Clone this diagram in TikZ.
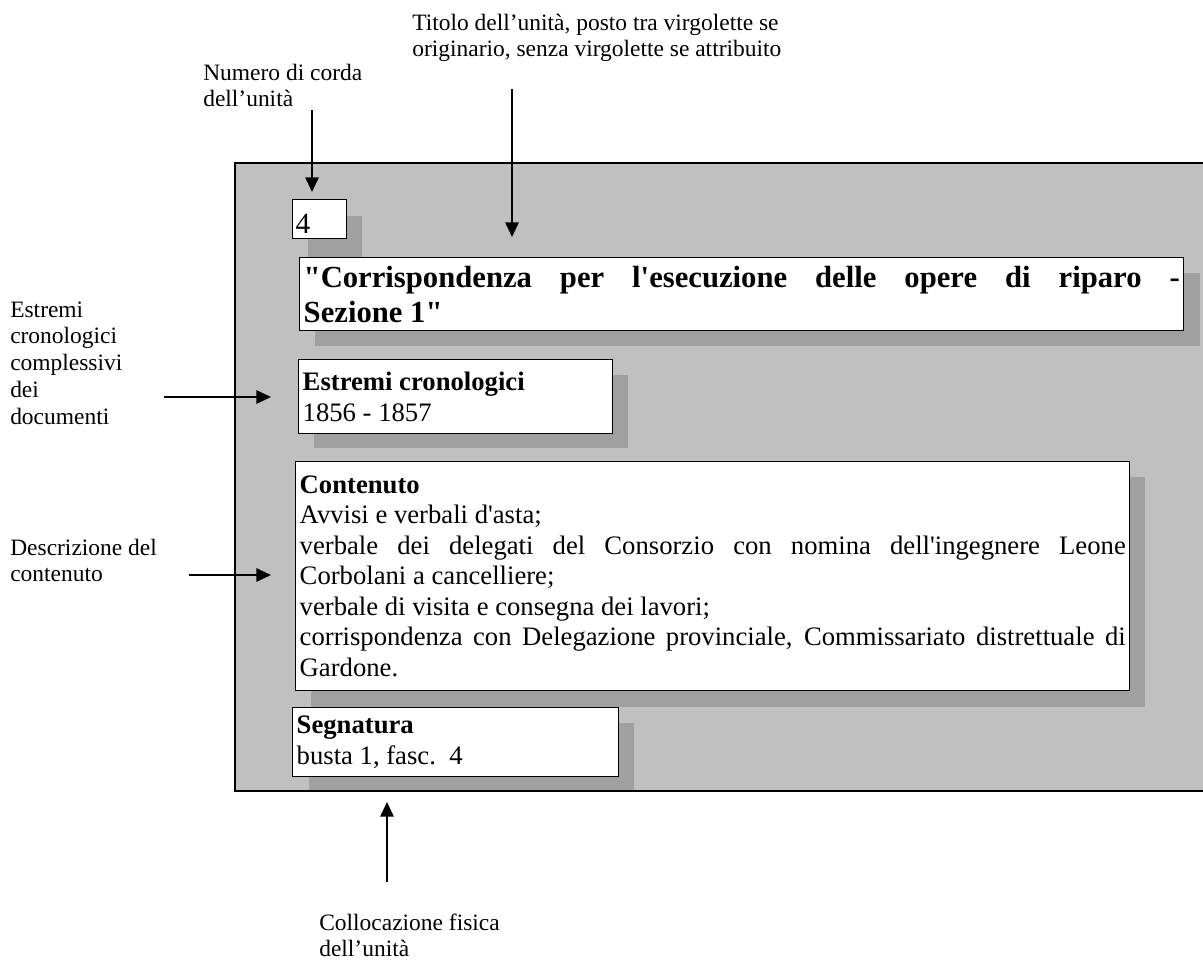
\documentclass[tikz,border=0pt]{standalone}
\usepackage{fontspec}
\setmainfont{Liberation Serif}
\usetikzlibrary{arrows.meta}
\definecolor{panelgray}{HTML}{C0C0C0}
\definecolor{shadegray}{HTML}{A0A0A0}
\newcommand\sq{\XeTeXglyph\XeTeXcharglyph"27\relax}
\newcommand\dq{\XeTeXglyph\XeTeXcharglyph"22\relax}
\newcommand\lblines[1]{\begin{tabular}[t]{@{}l@{}}#1\end{tabular}}
\hyphenpenalty=10000
\exhyphenpenalty=10000
\tolerance=9999
\begin{document}
\begin{tikzpicture}[x=0.75pt,y=-0.75pt,
  box/.style={draw=black, line width=1.1pt, fill=white, inner xsep=3pt, inner ysep=0pt, anchor=north west, align=justify},
  bodyfont/.style={font=\fontsize{20}{22.9}\selectfont},
  lbl/.style={inner sep=0pt, anchor=base west, font=\fontsize{17.6}{20.2}\selectfont},
  arr/.style={line width=1.4pt, -{Triangle[length=11pt,width=10pt]}}]
\useasboundingbox (0,0) rectangle (1203,960);
% panel
\fill[panelgray] (235,163) rectangle (1203,791);
% shadows
\fill[shadegray] (308,216) rectangle (362,257);
\fill[shadegray] (315,273) rectangle (1200,346);
\fill[shadegray] (314,375) rectangle (628,448);
\fill[shadegray] (311,477) rectangle (1145,707);
\fill[shadegray] (309,723) rectangle (634,791);
\draw[line width=1.1pt] (1203,163) -- (235,163) -- (235,791) -- (1203,791);
% boxes
\node[box, inner xsep=2.25pt, text width=36pt, minimum height=29.25pt, text height=21.75pt, text depth=0pt, align=left, font=\fontsize{22}{24}\selectfont] (num) at (292,199) {4};
\node[box, text width=657pt, minimum height=54.75pt, font=\bfseries\fontsize{23}{26.25}\selectfont] (title) at (299,257) {\dq Corrispondenza per l\sq esecuzione delle opere di riparo -\linebreak Sezione 1\dq};
\node[box, bodyfont, text width=229.5pt, minimum height=55.5pt] (dates) at (298,359) {\textbf{Estremi cronologici}\newline 1856 - 1857};
\node[box, bodyfont, text width=619.5pt, minimum height=171.75pt] (content) at (295,461) {\textbf{Contenuto}\newline Avvisi e verbali d\sq asta;\newline verbale dei delegati del Consorzio con nomina dell\sq ingegnere Leone\linebreak Corbolani a cancelliere;\newline verbale di visita e consegna dei lavori;\newline corrispondenza con Delegazione provinciale, Commissariato distrettuale di\linebreak Gardone.};
\node[box, bodyfont, text width=238.5pt, minimum height=51.75pt] (sig) at (292,707) {\textbf{Segnatura}\newline busta 1, fasc.\ \ 4};
% labels
\node[lbl] (lbltitle) at (412,30) {\lblines{Titolo dell’unità, posto tra virgolette se\\originario, senza virgolette se attribuito}};
\node[lbl] (lblnum) at (203,80) {\lblines{Numero di corda\\dell’unità}};
\node[lbl] (lbldates) at (10,317) {\lblines{Estremi\\cronologici\\complessivi\\dei\\documenti}};
\node[lbl] (lbldesc) at (10,555) {\lblines{Descrizione del\\contenuto}};
\node[lbl] (lblloc) at (319,930) {\lblines{Collocazione fisica\\dell’unità}};
% arrow ends
\coordinate (numA) at (312,110);   \coordinate (numB) at (312,192);
\coordinate (titA) at (512,89);    \coordinate (titB) at (512,237);
\coordinate (datA) at (164,397);   \coordinate (datB) at (271,397);
\coordinate (desA) at (189,575);   \coordinate (desB) at (271,575);
\coordinate (locA) at (387,882);   \coordinate (locB) at (387,802);
\draw[arr] (numA) -- (numB);
\draw[arr] (titA) -- (titB);
\draw[arr] (datA) -- (datB);
\draw[arr] (desA) -- (desB);
\draw[arr] (locA) -- (locB);
\end{tikzpicture}
\end{document}
